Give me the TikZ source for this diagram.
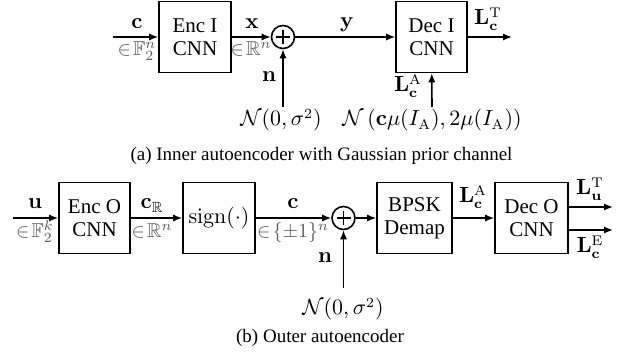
\documentclass[tikz,border=0pt]{standalone}
\usepackage{amsmath,amssymb}
\usepackage[no-math]{fontspec}
\setmainfont{Liberation Serif}
\usetikzlibrary{arrows.meta,calc}
\begin{document}
\begin{tikzpicture}[x=0.5pt,y=-0.5pt,
  blk/.style={draw,line width=0.8pt,minimum height=35.5pt,align=center,inner sep=0pt,font=\fontsize{10.5}{11.5}\selectfont},
  sumc/.style={draw,circle,line width=0.8pt,minimum size=11.5pt,inner sep=0pt},
  lab/.style={inner sep=0pt,anchor=base,font=\fontsize{10.5}{12}\selectfont},
  glab/.style={inner sep=0pt,anchor=base,text=black!65,font=\fontsize{10}{12}\selectfont},
  captxt/.style={inner sep=0pt,anchor=base,font=\fontsize{9.5}{11}\selectfont},
  arr/.style={line width=0.8pt,-{Latex[length=4.5pt,width=3.6pt]}}]
\useasboundingbox (0,0) rectangle (624,356);
% ---------- (a) ----------
\coordinate (in1) at (113,37);
\node[blk,minimum width=36pt] (enc1) at (195,37) {Enc I\\CNN};
\node[sumc] (p1) at (283,37) {};
\draw[line width=0.8pt] ($(p1.center)+(-7,0)$) -- ($(p1.center)+(7,0)$) ($(p1.center)+(0,-7)$) -- ($(p1.center)+(0,7)$);
\node[blk,minimum width=35.5pt] (dec1) at (431.5,37) {Dec I\\CNN};
\coordinate (out1) at (512,37);
\node[lab] (n1) at (281,126) {$\mathcal{N}(0,\sigma^2)$};
\node[lab] (n2) at (432,126) {$\mathcal{N}\left(\mathbf{c}\mu(I_{\mathrm{A}}),2\mu(I_{\mathrm{A}})\right)$};
\coordinate (n1t) at (283,107);
\coordinate (n2t) at (432,107);
\draw[arr] (in1) -- (enc1);
\draw[arr] (enc1) -- (p1);
\draw[arr] (p1) -- (dec1);
\draw[arr] (dec1) -- (out1);
\draw[arr] (n1t) -- (p1);
\draw[arr] (n2t) -- (dec1);
\node[lab] (lc) at (137,29) {$\mathbf{c}$};
\node[glab] (lf) at (137,56) {$\in\!\mathbb{F}_2^n$};
\node[lab] (lx) at (252,29) {$\mathbf{x}$};
\node[glab] (lr) at (251,56) {$\in\!\mathbb{R}^n$};
\node[lab] (ln) at (269,82) {$\mathbf{n}$};
\node[lab] (ly) at (347,28) {$\mathbf{y}$};
\node[lab] (lt) at (488,25) {$\mathbf{L}_{\mathbf{c}}^{\mathrm{T}}$};
\node[lab] (la) at (408,92) {$\mathbf{L}_{\mathbf{c}}^{\mathrm{A}}$};
\node[captxt] (capa) at (321.5,161) {(a) Inner autoencoder with Gaussian prior channel};
% ---------- (b) ----------
\coordinate (in2) at (13,218);
\node[blk,minimum width=35.5pt] (enc2) at (94.5,218) {Enc O\\CNN};
\node[blk,minimum width=36pt] (sgn) at (219,218) {$\mathrm{sign}(\cdot)$};
\node[sumc] (p2) at (343.5,218) {};
\draw[line width=0.8pt] ($(p2.center)+(-7,0)$) -- ($(p2.center)+(7,0)$) ($(p2.center)+(0,-7)$) -- ($(p2.center)+(0,7)$);
\node[blk,minimum width=37.5pt] (bpsk) at (414.5,218) {BPSK\\Demap};
\node[blk,minimum width=36.5pt] (dec2) at (531.5,218) {Dec O\\CNN};
\coordinate (o2a) at (613,207);
\coordinate (o2b) at (613,230);
\node[lab] (n3) at (343,315) {$\mathcal{N}(0,\sigma^2)$};
\coordinate (n3t) at (343.5,288);
\draw[arr] (in2) -- (enc2);
\draw[arr] (enc2) -- (sgn);
\draw[arr] (sgn) -- (p2);
\draw[arr] (p2) -- (bpsk);
\draw[arr] (bpsk) -- (dec2);
\draw[arr] (dec2.east |- o2a) -- (o2a);
\draw[arr] (dec2.east |- o2b) -- (o2b);
\draw[arr] (n3t) -- (p2);
\node[lab] (lu) at (35,209) {$\mathbf{u}$};
\node[glab] (lfk) at (35,238) {$\in\!\mathbb{F}_2^k$};
\node[lab] (lcr) at (152,209) {$\mathbf{c}_{\mathbb{R}}$};
\node[glab] (lrn) at (152,238) {$\in\!\mathbb{R}^n$};
\node[lab] (lc2) at (293,209) {$\mathbf{c}$};
\node[glab] (lpm) at (293,238) {$\in\!\{\pm1\}^n$};
\node[lab] (ln2) at (325,263) {$\mathbf{n}$};
\node[lab] (la2) at (473,203) {$\mathbf{L}_{\mathbf{c}}^{\mathrm{A}}$};
\node[lab] (lut) at (590,195) {$\mathbf{L}_{\mathbf{u}}^{\mathrm{T}}$};
\node[lab] (lce) at (590,253) {$\mathbf{L}_{\mathbf{c}}^{\mathrm{E}}$};
\node[captxt] (capb) at (320,343) {(b) Outer autoencoder};
\end{tikzpicture}
\end{document}
